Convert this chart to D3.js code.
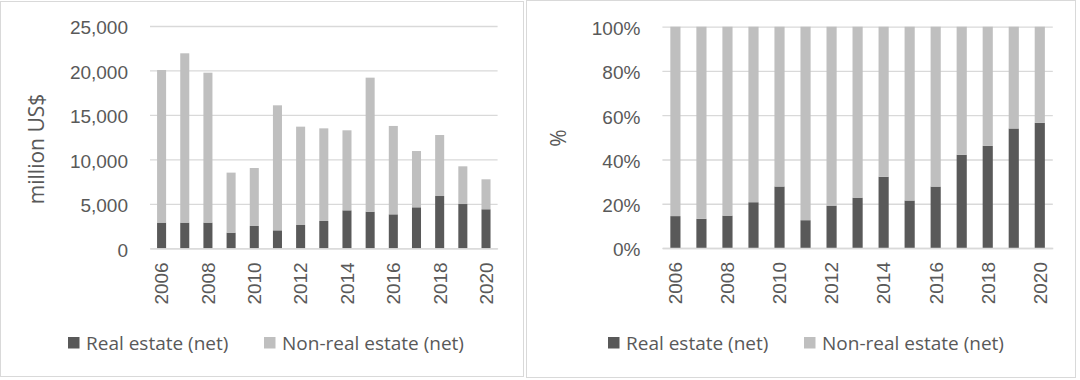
<!DOCTYPE html>
<html>
<head>
<meta charset="utf-8">
<script src="https://cdn.jsdelivr.net/npm/d3@7"></script>
<style>
  html, body { margin: 0; padding: 0; background: #fff; }
  svg { display: block; font-family: "Open Sans", sans-serif; }
</style>
</head>
<body>
<div id="container"></div>
<script>
const years         = [2006, 2007, 2008, 2009, 2010, 2011, 2012, 2013, 2014, 2015, 2016, 2017, 2018, 2019, 2020];
const realEstate    = [2890, 2890, 2890, 1760, 2510, 2020, 2620, 3070, 4270, 4120, 3820, 4610, 5880, 4980, 4390];
const nonRealEstate = [17160, 19040, 16860, 6750, 6520, 14060, 11060, 10420, 9000, 15070, 9940, 6330, 6860, 4240, 3370];
const seriesNames   = ["Real estate (net)", "Non-real estate (net)"];
const xTickYears    = [2006, 2008, 2010, 2012, 2014, 2016, 2018, 2020];
const valueTicks    = [0, 5000, 10000, 15000, 20000, 25000];
const shareTicks    = [0, 0.2, 0.4, 0.6, 0.8, 1];

const W = 1080, H = 380;
const textColor = "#595959";
const gridColor = "#d9d9d9";
const colors    = ["#595959", "#bfbfbf"];

const rows = years.map((y, i) => ({ year: y, re: realEstate[i], nre: nonRealEstate[i] }));

const svg = d3.select("#container")
  .append("svg")
    .attr("width", W)
    .attr("height", H);

// Panel frames
const panels = [
  { x: 0.5,   y: 1.5, w: 523,   h: 375 },
  { x: 526.5, y: 0.5, w: 549,   h: 377 }
];
svg.selectAll("rect.panel")
  .data(panels)
  .join("rect")
    .attr("class", "panel")
    .attr("x", d => d.x)
    .attr("y", d => d.y)
    .attr("width", d => d.w)
    .attr("height", d => d.h)
    .attr("fill", "none")
    .attr("stroke", gridColor);

function drawChart(cfg) {
  const g = svg.append("g");

  const x = d3.scaleBand()
    .domain(years)
    .range([cfg.left, cfg.right])
    .paddingInner(0.61)
    .paddingOuter(0.305);

  const y = d3.scaleLinear()
    .domain(cfg.domain)
    .range([cfg.bottom, cfg.top]);

  // gridlines + y labels
  const yAxis = g.append("g")
    .attr("transform", `translate(${cfg.left},0)`)
    .call(d3.axisLeft(y)
      .tickValues(cfg.ticks)
      .tickFormat(cfg.format)
      .tickSize(-(cfg.right - cfg.left))
      .tickPadding(22));
  yAxis.select(".domain").remove();
  yAxis.selectAll("line").attr("stroke", gridColor).attr("stroke-width", 1.3);
  yAxis.selectAll("text")
    .attr("fill", textColor)
    .attr("font-size", 19)
    .attr("dy", "0.42em");

  // stacked bars
  const stacked = d3.stack()
    .keys(["re", "nre"])
    .offset(cfg.offset)(rows);

  g.selectAll("g.series")
    .data(stacked)
    .join("g")
      .attr("class", "series")
      .attr("fill", (d, i) => colors[i])
    .selectAll("rect")
    .data(d => d)
    .join("rect")
      .attr("x", d => x(d.data.year))
      .attr("y", d => y(d[1]))
      .attr("width", x.bandwidth())
      .attr("height", d => y(d[0]) - y(d[1]));

  // x axis
  const xAxis = g.append("g")
    .attr("transform", `translate(0,${cfg.bottom})`)
    .call(d3.axisBottom(x).tickValues(xTickYears).tickSize(0));
  xAxis.select(".domain").attr("stroke", gridColor).attr("stroke-width", 1.3);
  xAxis.selectAll("text")
    .attr("fill", textColor)
    .attr("font-size", 19)
    .attr("transform", "rotate(-90)")
    .attr("text-anchor", "end")
    .attr("x", -14)
    .attr("y", 0)
    .attr("dy", "0.36em");

  // y title
  g.append("text")
    .attr("transform", `translate(${cfg.titleX},${cfg.titleY}) rotate(-90)`)
    .attr("text-anchor", "middle")
    .attr("fill", textColor)
    .attr("font-size", 21)
    .text(cfg.title);

  // legend
  const legend = g.append("g")
    .attr("transform", `translate(0,${cfg.legendY})`);
  const items = legend.selectAll("g")
    .data(seriesNames)
    .join("g")
      .attr("transform", (d, i) => `translate(${cfg.legendX[i]},0)`);
  items.append("rect")
    .attr("x", 0)
    .attr("y", -6)
    .attr("width", 11.5)
    .attr("height", 11.5)
    .attr("fill", (d, i) => colors[i]);
  items.append("text")
    .attr("x", 18)
    .attr("y", 0)
    .attr("dy", "0.36em")
    .attr("fill", textColor)
    .attr("font-size", 19)
    .text(d => d);
}

drawChart({
  left: 150, right: 497.6, top: 26, bottom: 248.3,
  domain: [0, 25000], ticks: valueTicks, format: d3.format(","),
  offset: d3.stackOffsetNone,
  title: "million US$", titleX: 44, titleY: 149,
  legendY: 343, legendX: [68, 264]
});

drawChart({
  left: 662.4, right: 1052.8, top: 26.7, bottom: 248,
  domain: [0, 1], ticks: shareTicks, format: d3.format(".0%"),
  offset: d3.stackOffsetExpand,
  title: "%", titleX: 566, titleY: 138,
  legendY: 343, legendX: [608, 804]
});
</script>
</body>
</html>
